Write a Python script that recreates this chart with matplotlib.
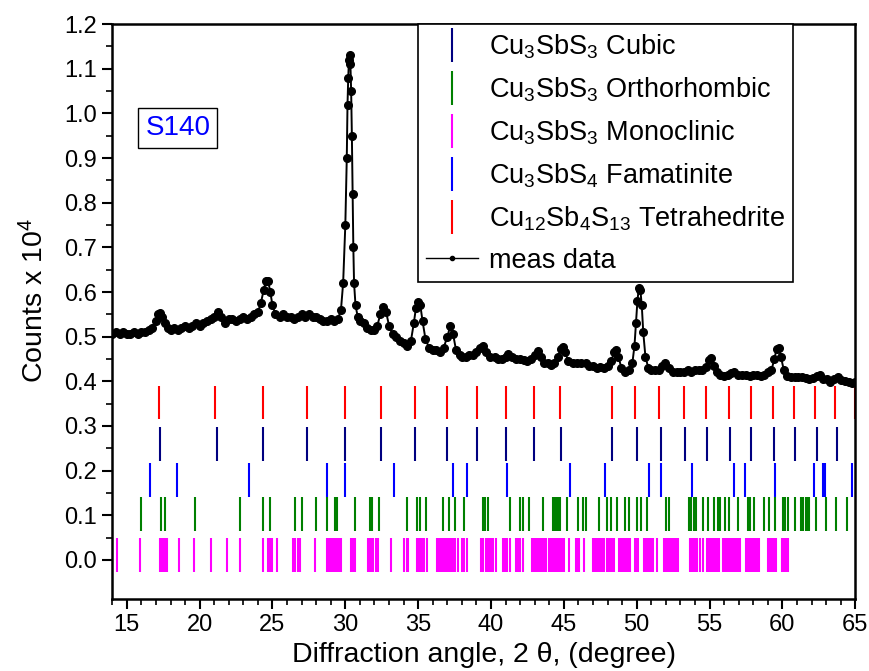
import numpy as np
import matplotlib
matplotlib.use("Agg")
import matplotlib.pyplot as plt
from matplotlib.lines import Line2D
from matplotlib.ticker import MultipleLocator, FixedLocator

plt.rcParams['font.family'] = ['Liberation Sans', 'DejaVu Sans']
plt.rcParams['mathtext.fontset'] = 'custom'
plt.rcParams['mathtext.rm'] = 'Liberation Sans'
plt.rcParams['mathtext.default'] = 'regular'

meas_x = [14.0, 14.25, 14.5, 14.75, 15.0, 15.25, 15.5, 15.75, 16.0, 16.25, 16.5, 16.75,
          17.0, 17.15, 17.3, 17.45, 17.6, 17.8, 18.0, 18.25, 18.5, 18.75, 19.0, 19.25,
          19.5, 19.75, 20.0, 20.25, 20.5, 20.75, 21.0, 21.25, 21.5, 21.75, 22.0, 22.25,
          22.5, 22.75, 23.0, 23.25, 23.5, 23.75, 24.0, 24.2, 24.4, 24.55, 24.7, 24.85,
          25.0, 25.2, 25.5, 25.75, 26.0, 26.25, 26.5, 26.75, 27.0, 27.25, 27.5, 27.75,
          28.0, 28.25, 28.5, 28.75, 29.0, 29.25, 29.5, 29.7, 29.85, 30.0, 30.1, 30.15,
          30.2, 30.25, 30.3, 30.35, 30.4, 30.45, 30.5, 30.55, 30.6, 30.7, 30.85, 31.0,
          31.25, 31.5, 31.75, 32.0, 32.2, 32.4, 32.6, 32.8, 33.0, 33.25, 33.5, 33.75,
          34.0, 34.25, 34.5, 34.7, 34.85, 35.0, 35.15, 35.3, 35.5, 35.75, 36.0, 36.25,
          36.5, 36.75, 37.0, 37.2, 37.4, 37.6, 37.85, 38.0, 38.25, 38.5, 38.75, 39.0,
          39.25, 39.45, 39.65, 39.9, 40.25, 40.5, 40.75, 41.0, 41.2, 41.45, 41.75, 42.0,
          42.25, 42.5, 42.75, 43.0, 43.2, 43.4, 43.65, 43.9, 44.1, 44.35, 44.6, 44.8,
          44.95, 45.1, 45.3, 45.6, 45.9, 46.2, 46.5, 46.75, 47.0, 47.25, 47.5, 47.75,
          48.0, 48.25, 48.45, 48.6, 48.75, 48.95, 49.2, 49.45, 49.7, 49.85, 49.95, 50.05,
          50.15, 50.25, 50.35, 50.45, 50.6, 50.8, 51.0, 51.25, 51.5, 51.75, 51.95, 52.2,
          52.5, 52.75, 53.0, 53.25, 53.5, 53.75, 54.0, 54.25, 54.5, 54.75, 54.95, 55.1,
          55.3, 55.5, 55.75, 56.0, 56.25, 56.5, 56.7, 56.95, 57.25, 57.5, 57.75, 58.0,
          58.25, 58.5, 58.75, 59.0, 59.25, 59.45, 59.6, 59.75, 59.9, 60.1, 60.35, 60.6,
          60.85, 61.1, 61.35, 61.6, 61.85, 62.1, 62.35, 62.55, 62.8, 63.05, 63.3, 63.55,
          63.8, 64.05, 64.3, 64.55, 64.8, 65.0]
meas_y = [0.505, 0.51, 0.505, 0.51, 0.505, 0.505, 0.51, 0.505, 0.51, 0.51, 0.515, 0.52,
          0.535, 0.55, 0.553, 0.545, 0.53, 0.52, 0.515, 0.52, 0.515, 0.52, 0.525, 0.52,
          0.525, 0.53, 0.525, 0.53, 0.535, 0.54, 0.545, 0.555, 0.545, 0.53, 0.54, 0.54,
          0.535, 0.54, 0.545, 0.54, 0.545, 0.55, 0.555, 0.575, 0.605, 0.625, 0.625, 0.6,
          0.57, 0.55, 0.545, 0.55, 0.545, 0.545, 0.54, 0.545, 0.55, 0.545, 0.55, 0.545,
          0.545, 0.54, 0.535, 0.535, 0.54, 0.535, 0.54, 0.56, 0.62, 0.75, 0.9, 1.02,
          1.08, 1.12, 1.13, 1.11, 1.05, 0.95, 0.82, 0.7, 0.62, 0.57, 0.545, 0.535,
          0.53, 0.52, 0.515, 0.515, 0.525, 0.55, 0.567, 0.555, 0.525, 0.505, 0.5, 0.49,
          0.485, 0.48, 0.49, 0.53, 0.565, 0.578, 0.57, 0.535, 0.495, 0.475, 0.47, 0.47,
          0.465, 0.475, 0.5, 0.523, 0.505, 0.47, 0.46, 0.455, 0.455, 0.46, 0.46, 0.465,
          0.475, 0.48, 0.465, 0.455, 0.455, 0.45, 0.45, 0.455, 0.462, 0.455, 0.45, 0.45,
          0.448, 0.445, 0.45, 0.46, 0.468, 0.455, 0.44, 0.44, 0.437, 0.44, 0.455, 0.472,
          0.478, 0.465, 0.445, 0.44, 0.44, 0.442, 0.44, 0.435, 0.435, 0.43, 0.432, 0.43,
          0.435, 0.445, 0.465, 0.47, 0.455, 0.43, 0.422, 0.425, 0.44, 0.48, 0.53, 0.58,
          0.61, 0.605, 0.57, 0.51, 0.455, 0.43, 0.425, 0.425, 0.425, 0.435, 0.44, 0.43,
          0.422, 0.42, 0.42, 0.422, 0.425, 0.42, 0.425, 0.425, 0.425, 0.432, 0.448, 0.452,
          0.435, 0.42, 0.415, 0.412, 0.415, 0.418, 0.422, 0.415, 0.415, 0.415, 0.412, 0.415,
          0.415, 0.412, 0.415, 0.42, 0.425, 0.45, 0.472, 0.475, 0.455, 0.425, 0.412, 0.41,
          0.41, 0.41, 0.41, 0.408, 0.405, 0.408, 0.412, 0.415, 0.405, 0.405, 0.398, 0.405,
          0.41, 0.402, 0.4, 0.398, 0.397, 0.398]

# reference reflection positions (2 theta)
tetra = [17.19, 21.03, 24.38, 27.38, 29.98, 32.47, 34.79, 36.96, 39.04, 41.03, 42.92,
         44.73, 48.29, 49.9, 51.55, 53.22, 54.77, 56.32, 57.85, 59.33, 60.82, 62.26,
         63.63, 65.0]
cubic = [17.26, 21.16, 24.38, 27.38, 30.0, 32.47, 34.79, 36.96, 39.04, 41.03, 42.92,
         44.82, 48.29, 50.0, 51.64, 53.29, 54.81, 56.38, 57.88, 59.42, 60.89, 62.35, 63.75]
famat = [16.58, 18.42, 23.36, 28.75, 29.98, 33.33, 37.37, 38.33, 41.1, 45.43, 47.83,
         50.86, 51.64, 53.77, 56.66, 57.42, 59.49, 62.19, 62.8, 62.95, 64.77]
ortho = [15.96, 17.33, 17.6, 19.66, 22.74, 24.38, 24.8, 26.58, 27.03, 27.97, 28.75,
         29.3, 29.45, 30.66, 31.7, 31.85, 32.28, 34.25, 34.9, 35.1, 35.57, 36.69, 37.12,
         37.55, 38.17, 39.48, 39.6, 39.8, 41.28, 41.96, 42.23, 42.64, 43.6, 44.25, 44.37,
         44.5, 44.62, 44.75, 45.22, 45.96, 46.3, 46.53, 47.42, 47.95, 48.24, 48.63, 49.22,
         49.49, 50.0, 50.29, 50.7, 52.0, 52.23, 53.58, 53.75, 53.95, 54.09, 54.54, 54.88,
         55.34, 55.55, 55.75, 56.03, 56.32, 56.93, 57.67, 57.8, 58.03, 58.72, 59.06, 59.52,
         60.02, 60.2, 60.36, 60.89, 61.28, 61.45, 61.6, 61.72, 61.85, 62.3, 62.98, 63.67,
         64.42]
mono = [14.3, 15.9, 17.26, 17.38, 17.5, 17.62, 17.74, 18.6, 19.6, 20.8, 21.85,
        22.74, 24.38, 24.68, 24.8, 25.0, 25.34, 26.42, 26.55, 26.75, 26.9,
        27.9, 28.75, 28.87, 28.99, 29.11, 29.23, 29.35, 29.47, 29.59, 29.68, 30.4,
        30.54, 30.68, 31.55, 31.67, 31.79, 31.93, 32.12, 32.24, 33.15, 34.06,
        34.2, 34.33, 34.9, 35.02, 35.14, 35.28, 35.43, 35.6, 36.3, 36.44, 36.58, 36.72,
        36.84, 36.96, 37.08, 37.2, 37.3, 37.42, 37.56, 37.75, 38.0, 38.15, 38.33,
        39.3, 39.45, 39.63, 39.76, 39.9, 40.02, 40.14, 40.36, 40.82, 40.96, 41.1,
        41.28, 41.73, 41.85, 41.96, 42.19, 42.82, 42.94, 43.06, 43.18, 43.3, 43.42,
        43.54, 43.66, 43.78, 44.01, 44.13, 44.25, 44.37, 44.49, 44.61, 44.73, 44.85,
        45.04, 45.34, 45.84, 45.96, 46.07, 46.41, 47.03, 47.15, 47.27, 47.39,
        47.53, 47.65, 47.77, 47.93, 48.05, 48.17, 48.3, 48.47, 48.8, 48.92,
        49.04, 49.16, 49.28, 49.42, 49.56, 49.86, 49.98, 50.1, 50.48, 50.6,
        50.72, 50.84, 50.98, 51.1, 51.37, 51.85, 51.97, 52.09, 52.21, 52.33,
        52.42, 52.55, 52.7, 52.82, 53.67, 53.79, 53.91, 54.03, 54.17, 54.32, 54.54,
        54.84, 54.96, 55.08, 55.2, 55.32, 55.44, 55.56, 55.68, 55.91, 56.03, 56.15,
        56.27, 56.39, 56.51, 56.63, 56.75, 56.87, 57.0, 57.12, 57.52, 57.64, 57.76,
        57.88, 58.0, 58.12, 58.24, 58.42, 59.04, 59.16, 59.28, 59.4,
        59.57, 59.97, 60.1, 60.24, 60.36]

labels = ['Cu$_3$SbS$_3$ Cubic', 'Cu$_3$SbS$_3$ Orthorhombic', 'Cu$_3$SbS$_3$ Monoclinic',
          'Cu$_3$SbS$_4$ Famatinite', 'Cu$_{12}$Sb$_4$S$_{13}$ Tetrahedrite', 'meas data']

fig = plt.figure(figsize=(8.7, 6.71), dpi=100)
ax = fig.add_axes([0.129, 0.107, 0.854, 0.857])

# stick rows (bottom to top: monoclinic, orthorhombic, famatinite, cubic, tetrahedrite)
ax.vlines(mono, -0.027, 0.05, color='#ff00ff', linewidth=1.5)
ax.vlines(ortho, 0.064, 0.14, color='#008000', linewidth=1.5)
ax.vlines(famat, 0.142, 0.218, color='#0000ff', linewidth=1.5)
ax.vlines(cubic, 0.222, 0.298, color='#000080', linewidth=1.5)
ax.vlines(tetra, 0.315, 0.39, color='#ff0000', linewidth=1.5)

ax.plot(meas_x, meas_y, color='black', linewidth=1.4, marker='o', markersize=5.5)

ax.set_xlim(14, 65)
ax.set_ylim(-0.088, 1.2)
ax.xaxis.set_major_locator(MultipleLocator(5))
ax.xaxis.set_minor_locator(MultipleLocator(1))
ax.set_yticks(np.arange(0, 1.21, 0.1))
ax.yaxis.set_minor_locator(FixedLocator(np.arange(0.05, 1.2, 0.1)))
ax.yaxis.set_major_formatter(plt.FuncFormatter(lambda v, p: f'{v:.1f}'))
ax.tick_params(which='major', direction='out', length=7, width=1.5, labelsize=17, pad=4)
ax.tick_params(which='minor', direction='out', length=4, width=1.2)
for s in ax.spines.values():
    s.set_linewidth(1.8)

ax.set_xlabel('Diffraction angle, 2 θ, (degree)', fontsize=20.5, labelpad=4)
ax.set_ylabel('Counts x 10$^4$', fontsize=20.5)
ax.yaxis.set_label_coords(-0.085, 0.52)

ax.text(18.5, 0.968, 'S140', color='#0000ff', fontsize=20, ha='center', va='center',
        bbox=dict(boxstyle='square,pad=0.25', facecolor='white', edgecolor='black', linewidth=1))

handles = [Line2D([], [], color=c, marker='|', linestyle='None', markersize=24, markeredgewidth=1.5)
           for c in ['#000080', '#008000', '#ff00ff', '#0000ff', '#ff0000']]
handles.append(Line2D([], [], color='black', linewidth=1, marker='o', markersize=3))
leg = ax.legend(handles, labels, loc='upper left', bbox_to_anchor=(0.412, 1.0), borderaxespad=0,
                fontsize=19.5, frameon=True, fancybox=False, framealpha=1, edgecolor='black',
                numpoints=1, handlelength=1.9, handletextpad=0.4, labelspacing=0.54,
                borderpad=0.3)
leg.get_frame().set_linewidth(1.2)

fig.savefig('out.png', dpi=100)
